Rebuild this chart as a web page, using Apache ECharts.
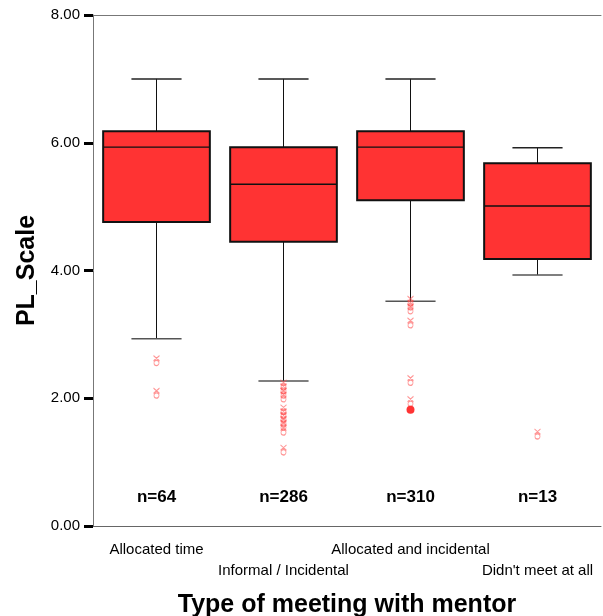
<!DOCTYPE html>
<html>
<head>
<meta charset="utf-8">
<script src="https://cdn.jsdelivr.net/npm/echarts@6/dist/echarts.min.js"></script>
<style>html,body{margin:0;padding:0;background:#fff}#c{width:603px;height:616px}</style>
</head>
<body>
<div id="c"></div>
<script>
const categories = ['Allocated time', 'Informal / Incidental', 'Allocated and incidental', "Didn't meet at all"];
const whiskerLow = [2.93, 2.27, 3.52, 3.93];
const q1 = [4.76, 4.45, 5.10, 4.18];
const median = [5.93, 5.35, 5.93, 5.01];
const q3 = [6.18, 5.93, 6.18, 5.68];
const whiskerHigh = [7.00, 7.00, 7.00, 5.92];
const nLabels = ['n=64', 'n=286', 'n=310', 'n=13'];
const nLabelY = 0.45;
const outliers1 = [2.59, 2.08];
const outliers2 = [2.21, 2.15, 2.08, 2.02, 1.82, 1.76, 1.70, 1.64, 1.58, 1.50, 1.19];
const outliers3 = [3.52, 3.46, 3.40, 3.18, 2.28, 1.95];
const outliers4 = [1.44];
const extremes3 = [1.82];

const FONT = "'Liberation Sans', Arial, sans-serif";
const boxData = categories.map((c, i) => [i, whiskerLow[i], q1[i], median[i], q3[i], whiskerHigh[i]]);
const outlierData = [];
[outliers1, outliers2, outliers3, outliers4].forEach((arr, i) => arr.forEach(v => outlierData.push([i, v])));
const extremeData = extremes3.map(v => [2, v]);
const nData = nLabels.map((t, i) => ({ value: [i, nLabelY], label: { formatter: t } }));

const chart = echarts.init(document.getElementById('c'), null, { renderer: 'canvas' });
chart.setOption({
  animation: false,
  backgroundColor: '#fff',
  grid: { left: 93, right: 2, top: 15, bottom: 90, containLabel: false, outerBoundsMode: 'none' },
  xAxis: [{
    type: 'category',
    data: categories,
    name: 'Type of meeting with mentor',
    nameLocation: 'middle',
    nameGap: 67,
    nameTextStyle: { fontFamily: FONT, fontSize: 25, fontWeight: 'bold', color: '#000' },
    axisLine: { lineStyle: { color: '#666', width: 1 } },
    axisTick: { alignWithLabel: true, length: 9, lineStyle: { color: '#000', width: 3 } },
    axisLabel: {
      interval: 0, margin: 13, fontFamily: FONT, fontSize: 15, color: '#000', lineHeight: 21,
      formatter: (v, i) => (i % 2 ? '\n' + v : v)
    }
  }, {
    type: 'category', position: 'top', data: categories,
    axisLine: { show: true, lineStyle: { color: '#777', width: 1 } },
    axisTick: { show: false }, axisLabel: { show: false }
  }],
  yAxis: {
    type: 'value', min: 0, max: 8, interval: 2,
    name: 'PL_Scale', nameLocation: 'middle', nameGap: 53,
    nameTextStyle: { fontFamily: FONT, fontSize: 25, fontWeight: 'bold', color: '#000' },
    axisLine: { show: true, lineStyle: { color: '#777', width: 1 } },
    axisTick: { show: true, length: 9, lineStyle: { color: '#000', width: 3 } },
    splitLine: { show: false },
    axisLabel: { margin: 13, fontFamily: FONT, fontSize: 15, color: '#000', formatter: v => v.toFixed(2) }
  },
  series: [{
    type: 'custom',
    data: boxData,
    encode: { x: 0, y: [1, 2, 3, 4, 5] },
    renderItem: function (params, api) {
      const i = api.value(0);
      const bw = api.size([1, 0])[0] * 0.84;
      const cw = bw * 0.47;
      const pLow = api.coord([i, api.value(1)]);
      const pQ1 = api.coord([i, api.value(2)]);
      const pMed = api.coord([i, api.value(3)]);
      const pQ3 = api.coord([i, api.value(4)]);
      const pHigh = api.coord([i, api.value(5)]);
      const x = pMed[0];
      const ln = { stroke: '#111', lineWidth: 1 };
      return {
        type: 'group',
        children: [
          { type: 'line', shape: { x1: x, y1: pHigh[1], x2: x, y2: pQ3[1] }, style: ln },
          { type: 'line', shape: { x1: x, y1: pQ1[1], x2: x, y2: pLow[1] }, style: ln },
          { type: 'line', shape: { x1: x - cw / 2, y1: pHigh[1], x2: x + cw / 2, y2: pHigh[1] }, style: { stroke: '#222', lineWidth: 1.5 } },
          { type: 'line', shape: { x1: x - cw / 2, y1: pLow[1], x2: x + cw / 2, y2: pLow[1] }, style: { stroke: '#555', lineWidth: 1.5 } },
          { type: 'rect', shape: { x: x - bw / 2, y: pQ3[1], width: bw, height: pQ1[1] - pQ3[1] }, style: { fill: '#ff3333', stroke: '#111', lineWidth: 2 } },
          { type: 'line', shape: { x1: x - bw / 2, y1: pMed[1], x2: x + bw / 2, y2: pMed[1] }, style: { stroke: '#111', lineWidth: 1.3 } }
        ]
      };
    }
  }, {
    type: 'scatter',
    data: outlierData,
    symbol: 'path://M0 0L6 5M6 0L0 5M3 4.5a2.5 2.5 0 1 0 0.01 0',
    symbolSize: [6, 10],
    itemStyle: { opacity: 1, color: 'rgba(255,255,255,0)', borderColor: 'rgba(255,80,80,0.6)', borderWidth: 1 }
  }, {
    type: 'scatter',
    data: extremeData,
    symbol: 'circle',
    symbolSize: 8,
    itemStyle: { opacity: 1, color: '#ff3333' }
  }, {
    type: 'scatter',
    data: nData,
    symbolSize: 1,
    itemStyle: { opacity: 1, color: 'rgba(255,255,255,0)' },
    label: { show: true, position: 'inside', fontFamily: FONT, fontSize: 17, fontWeight: 'bold', color: '#000', textBorderWidth: 0, opacity: 1 }
  }]
});
</script>
</body>
</html>
